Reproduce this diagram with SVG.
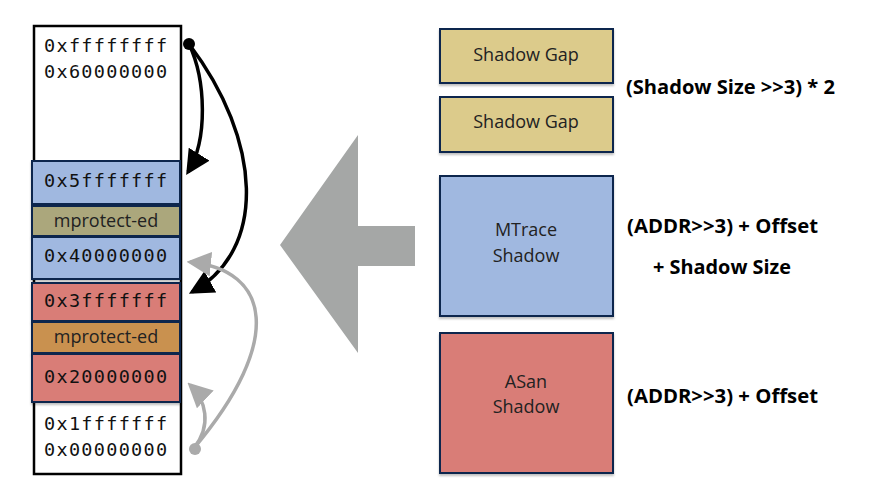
<svg xmlns="http://www.w3.org/2000/svg" width="874" height="504" viewBox="0 0 874 504">
<defs>
<style>
.hex{font-family:"DejaVu Sans Mono","Liberation Mono",monospace;font-size:18.5px;letter-spacing:1.3px;fill:#111}
.lbl{font-family:"Open Sans","Noto Sans",sans-serif;font-size:18px;fill:#222;text-anchor:middle}
.eq{font-family:"Open Sans","Noto Sans",sans-serif;font-weight:bold;font-size:19px;fill:#000}
.box{stroke:#11284d;stroke-width:2;filter:url(#sh)}
.blk{fill:none;stroke:#000;stroke-width:3.5}
.gry{fill:none;stroke:#aaa;stroke-width:3.5}
</style>
<filter id="sh" x="-10%" y="-10%" width="120%" height="130%">
<feDropShadow dx="0" dy="2" stdDeviation="1.2" flood-color="#000" flood-opacity="0.25"/>
</filter>
<marker id="ab" markerWidth="7" markerHeight="7" refX="6" refY="3.5" orient="auto" markerUnits="strokeWidth" viewBox="0 0 7 7">
<path d="M0,0 L7,3.5 L0,7 Z" fill="#000"/>
</marker>
<marker id="ag" markerWidth="7" markerHeight="7" refX="6" refY="3.5" orient="auto" markerUnits="strokeWidth" viewBox="0 0 7 7">
<path d="M0,0 L7,3.5 L0,7 Z" fill="#aaa"/>
</marker>
</defs>
<rect width="874" height="504" fill="#fff"/>

<g id="memory">
<rect x="34" y="26" width="147" height="448" fill="#fff" stroke="#000" stroke-width="2.5"/>
<text class="hex" x="44" y="52">0xffffffff</text>
<text class="hex" x="44" y="78">0x60000000</text>
<text class="hex" x="44" y="430">0x1fffffff</text>
<text class="hex" x="44" y="456">0x00000000</text>
</g>
<g id="mtrace-high">
<rect class="box" x="32" y="161" width="148" height="43" fill="#a0b8e0"/>
<text class="hex" x="44" y="187">0x5fffffff</text>
</g>
<g id="mtrace-prot">
<rect class="box" x="32" y="206" width="148" height="30" fill="#aba77c"/>
<text class="lbl" x="106" y="227">mprotect-ed</text>
</g>
<g id="mtrace-low">
<rect class="box" x="32" y="237" width="148" height="42" fill="#a0b8e0"/>
<text class="hex" x="44" y="262">0x40000000</text>
</g>
<g id="asan-high">
<rect class="box" x="32" y="283" width="148" height="38" fill="#d97d77"/>
<text class="hex" x="44" y="307">0x3fffffff</text>
</g>
<g id="asan-prot">
<rect class="box" x="32" y="322" width="148" height="31" fill="#c99150"/>
<text class="lbl" x="106" y="343">mprotect-ed</text>
</g>
<g id="asan-low">
<rect class="box" x="32" y="354" width="148" height="48" fill="#d97d77"/>
<text class="hex" x="44" y="383">0x20000000</text>
</g>

<g id="connectors">
<path class="blk" d="M189,44 C206,80 208,140 188,172" marker-end="url(#ab)"/>
<path class="blk" d="M189,44 C262,140 268,250 192,292" marker-end="url(#ab)"/>
<path class="gry" d="M194,448 C285,340 270,270 190,262" marker-end="url(#ag)"/>
<path class="gry" d="M194,448 C212,425 206,400 190,385" marker-end="url(#ag)"/>
<circle cx="189" cy="44" r="6" fill="#000"/>
<circle cx="195" cy="449" r="6" fill="#aaa"/>
</g>

<g id="big-arrow">
<path d="M280,245 L358,135 L358,226 L415,226 L415,266 L358,266 L358,353 Z" fill="#a5a7a6"/>
</g>

<g id="gap1">
<rect class="box" x="440" y="29" width="173" height="54" fill="#dccb8b"/>
<text class="lbl" x="526" y="61">Shadow Gap</text>
</g>
<g id="gap2">
<rect class="box" x="440" y="97" width="173" height="55" fill="#dccb8b"/>
<text class="lbl" x="526" y="128">Shadow Gap</text>
</g>
<g id="mtrace-shadow">
<rect class="box" x="440" y="176" width="173" height="140" fill="#a0b8e0"/>
<text class="lbl" x="526" y="236">MTrace</text>
<text class="lbl" x="526" y="262">Shadow</text>
</g>
<g id="asan-shadow">
<rect class="box" x="440" y="333" width="173" height="140" fill="#d97d77"/>
<text class="lbl" x="526" y="388">ASan</text>
<text class="lbl" x="526" y="413">Shadow</text>
</g>

<g id="formulas">
<text class="eq" x="626" y="94" textLength="209" lengthAdjust="spacingAndGlyphs">(Shadow Size &gt;&gt;3) * 2</text>
<text class="eq" x="627" y="233" textLength="191" lengthAdjust="spacingAndGlyphs">(ADDR&gt;&gt;3) + Offset</text>
<text class="eq" x="653" y="274" textLength="138" lengthAdjust="spacingAndGlyphs">+ Shadow Size</text>
<text class="eq" x="627" y="403" textLength="191" lengthAdjust="spacingAndGlyphs">(ADDR&gt;&gt;3) + Offset</text>
</g>
</svg>
